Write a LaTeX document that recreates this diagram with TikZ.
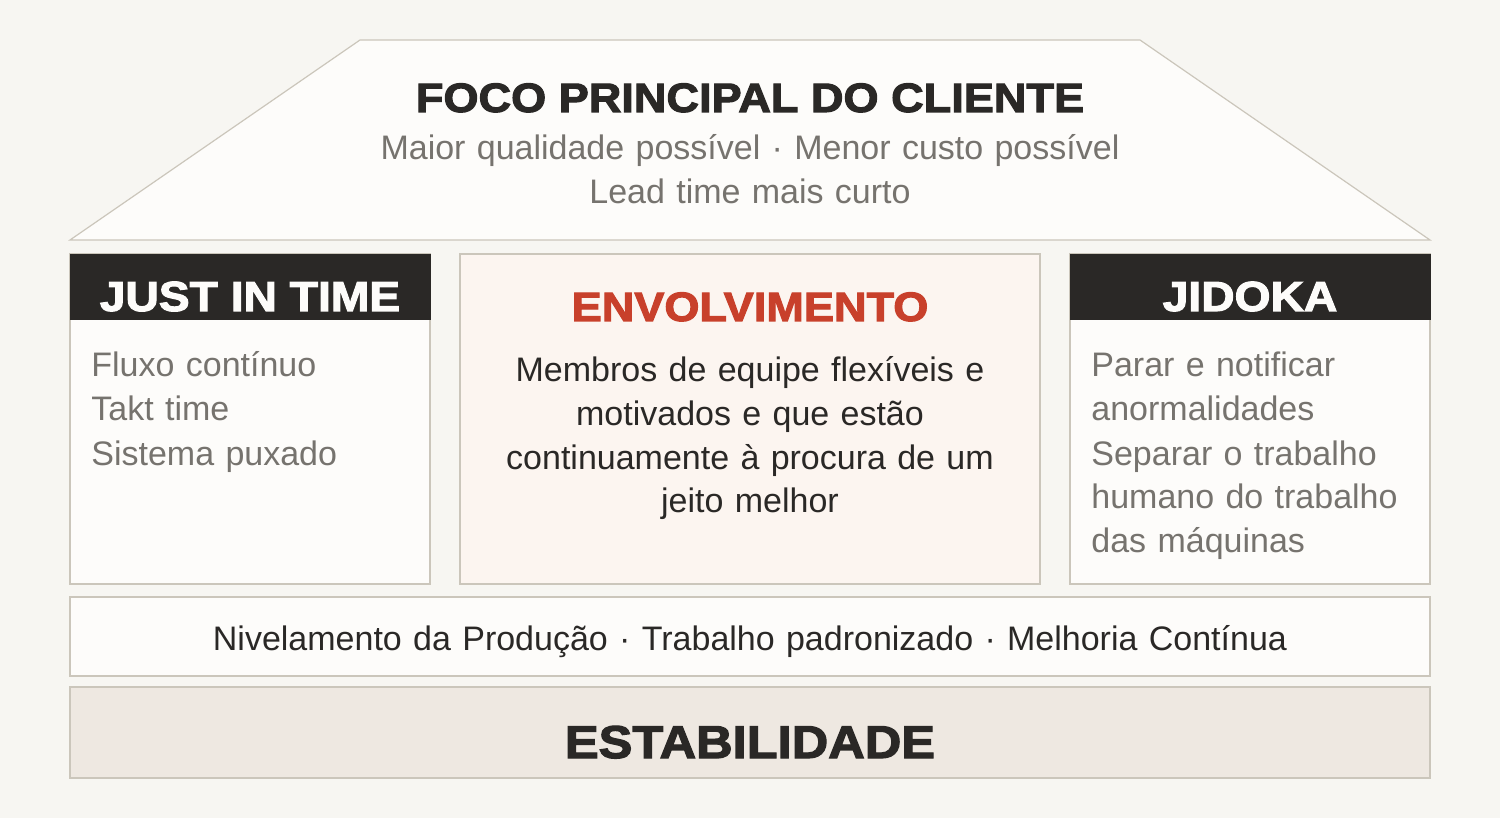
\documentclass[tikz,border=0pt]{standalone}
\usepackage{fontspec}
\setmainfont{Liberation Sans}
\newfontfamily\headfont[FakeStretch=1.1,BoldFeatures={FakeBold=2.6}]{Liberation Sans}
\usepackage{tikz}

\definecolor{bg}{HTML}{F7F6F2}
\definecolor{paper}{HTML}{FDFCFA}
\definecolor{edge}{HTML}{CBC6BB}
\definecolor{ink}{HTML}{2A2826}
\definecolor{muted}{HTML}{76736E}
\definecolor{accent}{HTML}{C8402B}
\definecolor{blush}{HTML}{FCF5F0}
\definecolor{sand}{HTML}{EEE8E1}

\begin{document}
\begin{tikzpicture}[
    x=0.5pt, y=-0.5pt,
    box/.style={rectangle, draw=edge, line width=1pt, fill=paper, inner sep=0pt},
    pillar/.style={box, minimum width=180pt, minimum height=165pt},
    header/.style={rectangle, fill=ink, minimum width=180.5pt, minimum height=33pt, inner sep=0pt},
    heading/.style={anchor=base, inner sep=0pt, font=\headfont\bfseries\fontsize{20.5}{24}\selectfont},
    lines/.style={anchor=base west, inner sep=0pt, text width=165pt, align=left, text=muted, font=\fontsize{17}{22}\selectfont},
    centered/.style={anchor=base, inner sep=0pt, text width=300pt, align=center, font=\fontsize{17}{22}\selectfont}
]
% Background and frame
\fill[bg] (0,0) rectangle (1500,818);
\useasboundingbox (0,0) rectangle (1500,818);
% Roof
\draw[edge, fill=paper, line width=0.6pt] (70,240) -- (360,40) -- (1140,40) -- (1430,240) -- cycle;
\node[heading, text=ink] (focus) at (750,112) {FOCO PRINCIPAL DO CLIENTE};
\node[centered, text=muted, text width=400pt] (goals) at (750,160) {Maior qualidade possível · Menor custo possível\\Lead time mais curto};
% Pillars
\node[pillar] (jit) at (250,419) {};
\node[header] (jitHead) at (250,287) {};
\node[heading, text=paper, font=\headfont\bfseries\fontsize{21}{24}\selectfont] (jitTitle) at (250,311) {JUST IN TIME};
\node[lines] (jitItems) at (91,377) {Fluxo contínuo\\Takt time\\Sistema puxado};
\node[pillar, fill=blush, minimum width=290pt] (engage) at (750,419) {};
\node[heading, text=accent] (engageTitle) at (750,321) {ENVOLVIMENTO};
\node[centered, text=ink] (engageText) at (750,381) {Membros de equipe flexíveis e\\motivados e que estão\\continuamente à procura de um\\jeito melhor};
\node[pillar] (jidoka) at (1250,419) {};
\node[header] (jidokaHead) at (1250,287) {};
\node[heading, text=paper, font=\headfont\bfseries\fontsize{21}{24}\selectfont] (jidokaTitle) at (1250,311) {JIDOKA};
\node[lines] (jidokaItems) at (1091,377) {Parar e notificar\\anormalidades\\Separar o trabalho\\humano do trabalho\\das máquinas};
% Foundation
\node[box, minimum width=680pt, minimum height=39.5pt] (band) at (750,636.5) {};
\node[centered, text=ink, text width=600pt] (bandText) at (750,650) {Nivelamento da Produção · Trabalho padronizado · Melhoria Contínua};
\node[box, fill=sand, minimum width=680pt, minimum height=45.5pt] (base) at (750,732.5) {};
\node[heading, text=ink, font=\headfont\bfseries\fontsize{23}{26}\selectfont] (baseTitle) at (750,758) {ESTABILIDADE};
\end{tikzpicture}
\end{document}
